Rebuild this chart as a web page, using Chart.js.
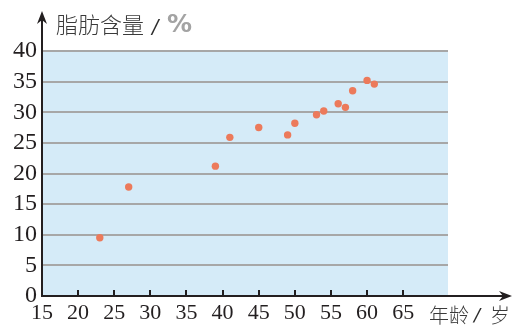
<!DOCTYPE html>
<html>
<head>
<meta charset="utf-8">
<script src="https://cdn.jsdelivr.net/npm/chart.js@4.4.0/dist/chart.umd.min.js"></script>
<style>
    html, body { margin: 0; padding: 0; background: #fff; }
    #contenedor { width: 513px; height: 326px; }
</style>
</head>
<body>
<div id="contenedor"><canvas id="migrafico" width="513" height="326"></canvas></div>
<script>
// DATOS: edad (años) y contenido de grasa (%)
const edades = [23, 27, 39, 41, 45, 49, 50, 53, 54, 56, 57, 58, 60, 61];
const grasa = [9.5, 17.8, 21.2, 25.9, 27.5, 26.3, 28.2, 29.6, 30.2, 31.4, 30.8, 33.5, 35.2, 34.6];
const ticksX = [15, 20, 25, 30, 35, 40, 45, 50, 55, 60, 65];
const ticksY = [0, 5, 10, 15, 20, 25, 30, 35, 40];
const tituloY = '脂肪含量';
const unidadY = '%';
const tituloX = '年龄';
const unidadX = '岁';

const colorEje = '#231f20';
const fuenteNum = "'Liberation Serif', 'DejaVu Serif', serif";
const fuenteCJK = "'Noto Sans CJK SC', 'Noto Sans', sans-serif";

// fondo azul, ejes con flecha, marcas y titulos
const fondoYEjes = {
    id: 'fondoYEjes',
    beforeDraw(chart) {
        const { ctx, chartArea: a } = chart;
        ctx.save();
        ctx.fillStyle = '#d5ebf8';
        ctx.fillRect(a.left, a.top, a.right - a.left, a.bottom - a.top);
        ctx.restore();
    },
    afterDraw(chart) {
        const { ctx, chartArea: a } = chart;
        const escalaX = chart.scales.x;
        ctx.save();
        ctx.strokeStyle = colorEje;
        ctx.fillStyle = colorEje;
        ctx.lineWidth = 2;

        // eje Y
        ctx.beginPath();
        ctx.moveTo(a.left, a.bottom + 1);
        ctx.lineTo(a.left, 18);
        ctx.stroke();
        ctx.beginPath();
        ctx.moveTo(a.left, 11);
        ctx.lineTo(a.left - 5, 24);
        ctx.lineTo(a.left, 20);
        ctx.lineTo(a.left + 5, 24);
        ctx.closePath();
        ctx.fill();

        // eje X
        ctx.beginPath();
        ctx.moveTo(a.left - 1, a.bottom);
        ctx.lineTo(505, a.bottom);
        ctx.stroke();
        ctx.beginPath();
        ctx.moveTo(512, a.bottom);
        ctx.lineTo(499, a.bottom - 5);
        ctx.lineTo(503, a.bottom);
        ctx.lineTo(499, a.bottom + 5);
        ctx.closePath();
        ctx.fill();

        // marcas del eje X hacia arriba
        ticksX.slice(1).forEach(v => {
            const px = Math.round(escalaX.getPixelForValue(v));
            ctx.beginPath();
            ctx.moveTo(px, a.bottom);
            ctx.lineTo(px, a.bottom - 6);
            ctx.stroke();
        });

        // titulos
        ctx.textBaseline = 'middle';
        ctx.textAlign = 'left';
        ctx.fillStyle = '#3a3a3a';
        ctx.font = '300 22px ' + fuenteCJK;
        ctx.fillText(tituloY, 56, 25);
        ctx.fillStyle = '#2b2b2b';
        ctx.font = 'italic 19px ' + "'DejaVu Sans', sans-serif";
        ctx.fillText('/', 152, 28);
        ctx.fillStyle = '#a3a3a3';
        ctx.font = 'bold 25px ' + "'DejaVu Sans', sans-serif";
        ctx.fillText(unidadY, 167, 25);

        ctx.fillStyle = '#3a3a3a';
        ctx.font = '300 20px ' + fuenteCJK;
        ctx.fillText(tituloX, 429, 315);
        ctx.fillStyle = '#2b2b2b';
        ctx.font = 'italic 18px ' + "'DejaVu Sans', sans-serif";
        ctx.fillText('/', 474, 316);
        ctx.fillStyle = '#3a3a3a';
        ctx.font = '300 20px ' + fuenteCJK;
        ctx.fillText(unidadX, 490, 315);
        ctx.restore();
    }
};

const ctx = document.getElementById('migrafico').getContext('2d');
const myChart = new Chart(ctx, {
    type: 'scatter',
    data: {
        datasets: [{
            label: tituloY,
            data: edades.map((e, i) => ({ x: e, y: grasa[i] })),
            backgroundColor: '#ec7a5b',
            borderWidth: 0,
            pointRadius: 3.7
        }]
    },
    options: {
        responsive: false,
        animation: false,
        devicePixelRatio: 1,
        layout: {
            padding: { top: 51, right: 65, left: 0, bottom: 0 }
        },
        plugins: {
            legend: { display: false },
            tooltip: { enabled: false }
        },
        scales: {
            x: {
                type: 'linear',
                min: 15,
                max: 71.2,
                afterBuildTicks: (s) => { s.ticks = ticksX.map(v => ({ value: v })); },
                afterFit: (s) => { s.height = 30; },
                grid: { display: false, drawTicks: false },
                border: { display: false },
                ticks: {
                    padding: 4,
                    color: colorEje,
                    font: { family: fuenteNum, size: 22 },
                    maxRotation: 0,
                    autoSkip: false
                }
            },
            y: {
                min: 0,
                max: 40,
                afterBuildTicks: (s) => { s.ticks = ticksY.map(v => ({ value: v })); },
                afterFit: (s) => { s.width = 42; },
                grid: {
                    drawTicks: false,
                    lineWidth: 2,
                    color: (c) => c.tick && c.tick.value === 0 ? 'rgba(0,0,0,0)' : '#a7a7a7'
                },
                border: { display: false },
                ticks: {
                    padding: 5,
                    autoSkip: false,
                    color: colorEje,
                    font: { family: fuenteNum, size: 24 }
                }
            }
        }
    },
    plugins: [fondoYEjes]
});
</script>
</body>
</html>
